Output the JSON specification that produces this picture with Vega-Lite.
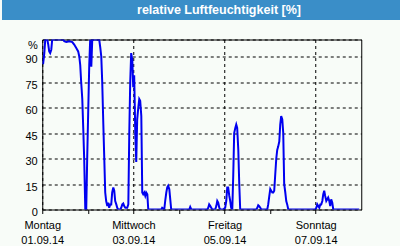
{
  "$schema": "https://vega.github.io/schema/vega-lite/v6.json",
  "background": "#f8fcf8",
  "padding": 0,
  "spacing": 18.5,
  "center": true,
  "config": {"font": "Liberation Sans"},
  "vconcat": [
    {
      "width": 400,
      "height": 20,
      "view": {"fill": "#3a8ec8", "stroke": null},
      "data": {"values": [{"title": "relative Luftfeuchtigkeit [%]"}]},
      "mark": {"type": "text", "color": "white", "font": "Liberation Sans", "fontWeight": "bold", "fontSize": 12.5, "dx": 17},
      "encoding": {"text": {"field": "title", "type": "nominal"}}
    },
    {
      "width": 319,
      "height": 170,
      "view": {"stroke": "black", "strokeWidth": 1, "fill": null},
      "data": {"values": [
        {"t": "2014-09-01T00:00Z", "v": 86},
        {"t": "2014-09-01T00:30Z", "v": 86},
        {"t": "2014-09-01T01:05Z", "v": 92},
        {"t": "2014-09-01T01:35Z", "v": 100},
        {"t": "2014-09-01T02:40Z", "v": 100},
        {"t": "2014-09-01T03:10Z", "v": 97},
        {"t": "2014-09-01T03:40Z", "v": 93},
        {"t": "2014-09-01T04:10Z", "v": 92},
        {"t": "2014-09-01T04:45Z", "v": 94},
        {"t": "2014-09-01T05:15Z", "v": 100},
        {"t": "2014-09-01T11:05Z", "v": 100},
        {"t": "2014-09-01T11:35Z", "v": 99},
        {"t": "2014-09-01T12:40Z", "v": 98.5},
        {"t": "2014-09-01T14:15Z", "v": 99},
        {"t": "2014-09-01T15:50Z", "v": 98.5},
        {"t": "2014-09-01T16:50Z", "v": 97},
        {"t": "2014-09-01T17:55Z", "v": 95},
        {"t": "2014-09-01T18:55Z", "v": 93},
        {"t": "2014-09-01T19:30Z", "v": 90},
        {"t": "2014-09-01T20:00Z", "v": 85},
        {"t": "2014-09-01T20:30Z", "v": 75},
        {"t": "2014-09-01T21:05Z", "v": 65},
        {"t": "2014-09-01T21:35Z", "v": 48},
        {"t": "2014-09-01T22:05Z", "v": 30},
        {"t": "2014-09-01T22:40Z", "v": 0},
        {"t": "2014-09-01T23:10Z", "v": 0},
        {"t": "2014-09-01T23:40Z", "v": 30},
        {"t": "2014-09-02T00:15Z", "v": 60},
        {"t": "2014-09-02T00:45Z", "v": 85},
        {"t": "2014-09-02T01:15Z", "v": 100},
        {"t": "2014-09-02T01:50Z", "v": 84},
        {"t": "2014-09-02T02:20Z", "v": 100},
        {"t": "2014-09-02T06:00Z", "v": 100},
        {"t": "2014-09-02T06:35Z", "v": 95},
        {"t": "2014-09-02T07:05Z", "v": 90},
        {"t": "2014-09-02T07:35Z", "v": 75},
        {"t": "2014-09-02T08:10Z", "v": 50},
        {"t": "2014-09-02T08:40Z", "v": 30},
        {"t": "2014-09-02T09:10Z", "v": 10},
        {"t": "2014-09-02T09:40Z", "v": 5},
        {"t": "2014-09-02T10:15Z", "v": 2},
        {"t": "2014-09-02T10:45Z", "v": 4},
        {"t": "2014-09-02T11:15Z", "v": 1},
        {"t": "2014-09-02T11:50Z", "v": 3},
        {"t": "2014-09-02T12:20Z", "v": 3},
        {"t": "2014-09-02T12:50Z", "v": 10},
        {"t": "2014-09-02T13:25Z", "v": 13},
        {"t": "2014-09-02T13:55Z", "v": 11},
        {"t": "2014-09-02T14:25Z", "v": 5},
        {"t": "2014-09-02T15:00Z", "v": 3},
        {"t": "2014-09-02T15:30Z", "v": 1},
        {"t": "2014-09-02T16:00Z", "v": 0},
        {"t": "2014-09-02T17:05Z", "v": 0},
        {"t": "2014-09-02T17:35Z", "v": 1},
        {"t": "2014-09-02T18:10Z", "v": 3},
        {"t": "2014-09-02T18:40Z", "v": 3.5},
        {"t": "2014-09-02T19:10Z", "v": 2},
        {"t": "2014-09-02T19:45Z", "v": 1},
        {"t": "2014-09-02T20:45Z", "v": 1},
        {"t": "2014-09-02T21:20Z", "v": 3},
        {"t": "2014-09-02T21:50Z", "v": 45},
        {"t": "2014-09-02T22:20Z", "v": 75},
        {"t": "2014-09-02T22:50Z", "v": 92},
        {"t": "2014-09-02T23:25Z", "v": 88},
        {"t": "2014-09-02T23:55Z", "v": 72},
        {"t": "2014-09-03T00:25Z", "v": 79},
        {"t": "2014-09-03T01:00Z", "v": 45},
        {"t": "2014-09-03T01:30Z", "v": 28},
        {"t": "2014-09-03T02:00Z", "v": 53},
        {"t": "2014-09-03T02:35Z", "v": 60},
        {"t": "2014-09-03T03:05Z", "v": 65},
        {"t": "2014-09-03T03:35Z", "v": 64},
        {"t": "2014-09-03T04:10Z", "v": 55},
        {"t": "2014-09-03T04:40Z", "v": 10},
        {"t": "2014-09-03T05:10Z", "v": 9},
        {"t": "2014-09-03T05:45Z", "v": 10},
        {"t": "2014-09-03T06:15Z", "v": 8},
        {"t": "2014-09-03T06:45Z", "v": 10},
        {"t": "2014-09-03T07:20Z", "v": 9},
        {"t": "2014-09-03T07:50Z", "v": 0},
        {"t": "2014-09-03T14:40Z", "v": 0},
        {"t": "2014-09-03T15:10Z", "v": 1},
        {"t": "2014-09-03T15:45Z", "v": 0.5},
        {"t": "2014-09-03T16:15Z", "v": 0},
        {"t": "2014-09-03T16:45Z", "v": 5},
        {"t": "2014-09-03T17:20Z", "v": 10},
        {"t": "2014-09-03T17:50Z", "v": 13},
        {"t": "2014-09-03T18:20Z", "v": 14},
        {"t": "2014-09-03T18:55Z", "v": 12},
        {"t": "2014-09-03T19:25Z", "v": 6},
        {"t": "2014-09-03T19:55Z", "v": 0},
        {"t": "2014-09-04T05:25Z", "v": 0},
        {"t": "2014-09-04T05:55Z", "v": 1.5},
        {"t": "2014-09-04T06:30Z", "v": 0},
        {"t": "2014-09-04T14:55Z", "v": 0},
        {"t": "2014-09-04T15:25Z", "v": 1},
        {"t": "2014-09-04T15:55Z", "v": 3},
        {"t": "2014-09-04T16:30Z", "v": 2},
        {"t": "2014-09-04T17:00Z", "v": 1},
        {"t": "2014-09-04T17:30Z", "v": 0},
        {"t": "2014-09-04T19:05Z", "v": 0},
        {"t": "2014-09-04T19:40Z", "v": 2},
        {"t": "2014-09-04T20:10Z", "v": 5},
        {"t": "2014-09-04T20:40Z", "v": 4},
        {"t": "2014-09-04T21:15Z", "v": 1},
        {"t": "2014-09-04T21:45Z", "v": 0},
        {"t": "2014-09-04T23:20Z", "v": 0},
        {"t": "2014-09-05T00:20Z", "v": 1},
        {"t": "2014-09-05T00:55Z", "v": 5},
        {"t": "2014-09-05T01:25Z", "v": 13},
        {"t": "2014-09-05T01:55Z", "v": 13},
        {"t": "2014-09-05T02:30Z", "v": 8},
        {"t": "2014-09-05T03:00Z", "v": 5},
        {"t": "2014-09-05T03:30Z", "v": 1},
        {"t": "2014-09-05T04:05Z", "v": 0},
        {"t": "2014-09-05T04:35Z", "v": 20},
        {"t": "2014-09-05T05:05Z", "v": 45},
        {"t": "2014-09-05T05:40Z", "v": 48},
        {"t": "2014-09-05T06:10Z", "v": 50},
        {"t": "2014-09-05T06:40Z", "v": 48},
        {"t": "2014-09-05T07:15Z", "v": 35},
        {"t": "2014-09-05T07:45Z", "v": 15},
        {"t": "2014-09-05T08:15Z", "v": 0},
        {"t": "2014-09-05T16:40Z", "v": 0},
        {"t": "2014-09-05T17:15Z", "v": 1},
        {"t": "2014-09-05T17:45Z", "v": 2.5},
        {"t": "2014-09-05T18:15Z", "v": 2},
        {"t": "2014-09-05T18:50Z", "v": 1},
        {"t": "2014-09-05T19:20Z", "v": 0},
        {"t": "2014-09-05T22:30Z", "v": 0},
        {"t": "2014-09-05T23:00Z", "v": 3},
        {"t": "2014-09-05T23:35Z", "v": 8},
        {"t": "2014-09-06T00:05Z", "v": 12},
        {"t": "2014-09-06T00:35Z", "v": 11},
        {"t": "2014-09-06T01:10Z", "v": 10},
        {"t": "2014-09-06T01:40Z", "v": 10},
        {"t": "2014-09-06T02:10Z", "v": 11},
        {"t": "2014-09-06T02:40Z", "v": 20},
        {"t": "2014-09-06T03:15Z", "v": 30},
        {"t": "2014-09-06T03:45Z", "v": 35},
        {"t": "2014-09-06T04:15Z", "v": 37},
        {"t": "2014-09-06T04:50Z", "v": 40},
        {"t": "2014-09-06T05:20Z", "v": 50},
        {"t": "2014-09-06T05:50Z", "v": 55},
        {"t": "2014-09-06T06:25Z", "v": 53},
        {"t": "2014-09-06T06:55Z", "v": 45},
        {"t": "2014-09-06T07:25Z", "v": 15},
        {"t": "2014-09-06T08:00Z", "v": 10},
        {"t": "2014-09-06T08:30Z", "v": 5},
        {"t": "2014-09-06T09:00Z", "v": 3},
        {"t": "2014-09-06T09:35Z", "v": 0},
        {"t": "2014-09-06T23:45Z", "v": 0},
        {"t": "2014-09-07T00:20Z", "v": 1},
        {"t": "2014-09-07T00:50Z", "v": 3},
        {"t": "2014-09-07T01:20Z", "v": 2},
        {"t": "2014-09-07T01:55Z", "v": 1},
        {"t": "2014-09-07T02:25Z", "v": 3},
        {"t": "2014-09-07T02:55Z", "v": 3},
        {"t": "2014-09-07T03:30Z", "v": 5},
        {"t": "2014-09-07T04:00Z", "v": 9},
        {"t": "2014-09-07T04:30Z", "v": 11},
        {"t": "2014-09-07T05:00Z", "v": 8},
        {"t": "2014-09-07T05:35Z", "v": 5},
        {"t": "2014-09-07T06:05Z", "v": 6},
        {"t": "2014-09-07T06:35Z", "v": 7},
        {"t": "2014-09-07T07:10Z", "v": 5},
        {"t": "2014-09-07T07:40Z", "v": 2},
        {"t": "2014-09-07T08:10Z", "v": 6},
        {"t": "2014-09-07T08:45Z", "v": 4},
        {"t": "2014-09-07T09:15Z", "v": 0},
        {"t": "2014-09-07T22:55Z", "v": 0}
      ]},
      "mark": {"type": "line", "color": "#0000f0", "strokeWidth": 2, "clip": true},
      "encoding": {
        "x": {
          "field": "t", "type": "temporal",
          "scale": {"type": "utc", "domain": [{"year": 2014, "month": 9, "date": 1, "utc": true}, {"year": 2014, "month": 9, "date": 8, "utc": true}]},
          "axis": {
            "title": null,
            "domain": false,
            "values": [
              {"year": 2014, "month": 9, "date": 1, "utc": true},
              {"year": 2014, "month": 9, "date": 2, "utc": true},
              {"year": 2014, "month": 9, "date": 3, "utc": true},
              {"year": 2014, "month": 9, "date": 4, "utc": true},
              {"year": 2014, "month": 9, "date": 5, "utc": true},
              {"year": 2014, "month": 9, "date": 6, "utc": true},
              {"year": 2014, "month": 9, "date": 7, "utc": true}
            ],
            "labelExpr": "utcdate(datum.value) % 2 == 1 ? [['Sonntag','Montag','Dienstag','Mittwoch','Donnerstag','Freitag','Samstag'][utcday(datum.value)], utcFormat(datum.value, '%d.%m.%y')] : ''",
            "labelFlush": false,
            "labelOverlap": false,
            "labelFont": "Liberation Sans",
            "labelFontSize": 11,
            "labelColor": "black",
            "labelLineHeight": 15,
            "labelPadding": 6,
            "tickColor": "black",
            "tickSize": 4,
            "grid": true,
            "gridColor": "black",
            "gridDash": [3, 3],
            "gridOpacity": {"condition": {"test": "utcdate(datum.value) % 2 == 0", "value": 0}, "value": 1}
          }
        },
        "y": {
          "field": "v", "type": "quantitative",
          "scale": {"domain": [0, 100], "nice": false},
          "axis": {
            "title": " ",
            "titlePadding": 13,
            "titleFontSize": 11,
            "domain": false,
            "ticks": false,
            "values": [0, 15, 30, 45, 60, 75, 90, 100],
            "labelExpr": "datum.value == 100 ? '%' : datum.label",
            "labelOverlap": false,
            "labelFont": "Liberation Sans",
            "labelFontSize": 11,
            "labelColor": "black",
            "labelPadding": 5,
            "labelBaseline": {"condition": {"test": "datum.value == 100", "value": "top"}, "value": "middle"},
            "labelOffset": {"condition": {"test": "datum.value == 100", "value": 0}, "value": 3},
            "grid": true,
            "gridColor": "black",
            "gridDash": [3, 3]
          }
        }
      }
    }
  ]
}
